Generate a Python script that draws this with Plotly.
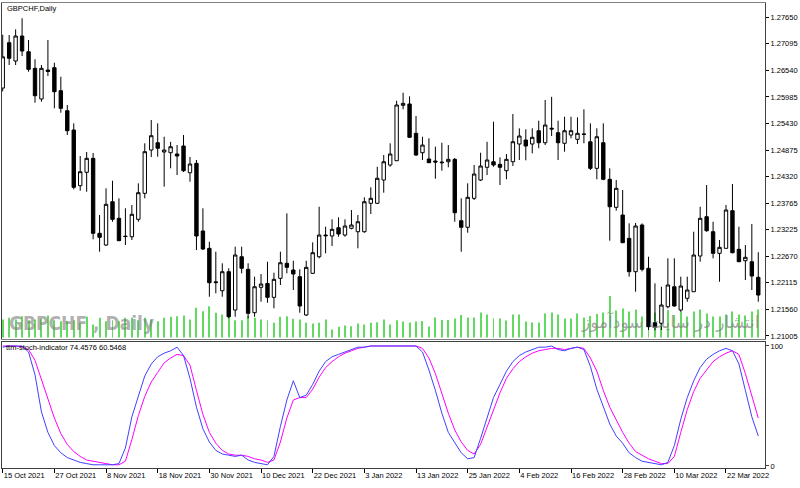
import plotly.graph_objects as go

# ---------------- data ----------------
open_ = [1.2617, 1.27115, 1.26733, 1.27254, 1.26927, 1.26581, 1.25942, 1.26546, 1.26594, 1.26115,
         1.25698, 1.25296, 1.24136, 1.24415, 1.24706, 1.23144, 1.2290, 1.23802, 1.23456, 1.23085,
         1.23073, 1.23435, 1.23977, 1.24879, 1.25031, 1.24838, 1.24823, 1.24796, 1.24963, 1.24406,
         1.24602, 1.23192, 1.22831, 1.22115, 1.21948, 1.22344, 1.21546, 1.22656, 1.22394, 1.2149,
         1.22019, 1.22098, 1.2181, 1.22206, 1.22519, 1.22379, 1.2224, 1.21442, 1.2231, 1.22656,
         1.23108, 1.23088, 1.2326, 1.23108, 1.23248, 1.23177, 1.23177, 1.23769, 1.23769, 1.24254,
         1.24567, 1.24656, 1.2581, 1.25838, 1.25227, 1.24823, 1.24692, 1.2465, 1.24629, 1.24635,
         1.24685, 1.23406, 1.23269, 1.23873, 1.24254, 1.24519, 1.24635, 1.24581, 1.24448, 1.24635,
         1.25004, 1.25088, 1.25004, 1.25281, 1.25031, 1.25333, 1.2524, 1.25019, 1.25192, 1.25102,
         1.25213, 1.2505, 1.24498, 1.25031, 1.24269, 1.23685, 1.23525, 1.23039, 1.22344, 1.23317,
         1.22415, 1.21281, 1.21269, 1.21615, 1.22031, 1.21546, 1.2179, 1.21927, 1.22671, 1.2349,
         1.23177, 1.22727, 1.22831, 1.23615, 1.2281, 1.22573, 1.22552, 1.22227]
high_ = [1.2728, 1.27275, 1.27394, 1.27623, 1.27171, 1.26769, 1.2665, 1.27171, 1.26698, 1.26406,
         1.25817, 1.25435, 1.24754, 1.24838, 1.24817, 1.23525, 1.24081, 1.2424, 1.23873, 1.23665,
         1.23733, 1.24185, 1.25019, 1.25504, 1.25435, 1.25156, 1.2505, 1.24983, 1.25192, 1.24733,
         1.24671, 1.23665, 1.22969, 1.22761, 1.22519, 1.22415, 1.22865, 1.22865, 1.22519, 1.2224,
         1.22296, 1.22552, 1.22323, 1.22761, 1.2356, 1.22573, 1.22394, 1.22573, 1.22956, 1.23698,
         1.23281, 1.23435, 1.23477, 1.23435, 1.23629, 1.23525, 1.23894, 1.24102, 1.24531, 1.24775,
         1.25019, 1.25906, 1.26073, 1.25998, 1.25588, 1.25156, 1.25123, 1.2495, 1.25031, 1.24983,
         1.24713, 1.23873, 1.24185, 1.24567, 1.24823, 1.2505, 1.25469, 1.24727, 1.24796, 1.25629,
         1.25331, 1.2531, 1.25331, 1.2549, 1.25921, 1.25988, 1.2549, 1.25573, 1.25573, 1.2556,
         1.25727, 1.25435, 1.25331, 1.25435, 1.24498, 1.24254, 1.24046, 1.23352, 1.2336, 1.2335,
         1.22656, 1.22102, 1.22031, 1.22623, 1.22623, 1.2224, 1.2224, 1.23177, 1.23698, 1.2415,
         1.23385, 1.23004, 1.23733, 1.24171, 1.23281, 1.229, 1.23338, 1.2275]
low_ = [1.2610, 1.2665, 1.2665, 1.26838, 1.2651, 1.25865, 1.25885, 1.26421, 1.25748, 1.25656,
        1.25192, 1.2406, 1.24031, 1.2401, 1.23019, 1.22761, 1.2288, 1.23385, 1.22983, 1.2290,
        1.23004, 1.23385, 1.23873, 1.24733, 1.2474, 1.24115, 1.24498, 1.24358, 1.24421, 1.24219,
        1.22796, 1.22796, 1.21823, 1.21894, 1.21823, 1.21373, 1.21406, 1.2231, 1.21373, 1.21406,
        1.21719, 1.21698, 1.21581, 1.22067, 1.2231, 1.21963, 1.2149, 1.21421, 1.22296, 1.22623,
        1.22727, 1.22879, 1.23073, 1.23073, 1.23227, 1.22831, 1.23156, 1.23546, 1.23754, 1.2399,
        1.24531, 1.2465, 1.25727, 1.2513, 1.24754, 1.24671, 1.24608, 1.24281, 1.24448, 1.24519,
        1.23385, 1.22761, 1.23156, 1.23838, 1.24233, 1.24358, 1.24531, 1.2415, 1.24269, 1.24546,
        1.24671, 1.24665, 1.2481, 1.24915, 1.24983, 1.25171, 1.24671, 1.24844, 1.25123, 1.25004,
        1.25019, 1.24463, 1.24269, 1.2425, 1.2299, 1.23615, 1.22948, 1.2224, 1.21927, 1.2235,
        1.21129, 1.2112, 1.21129, 1.21581, 1.21615, 1.2151, 1.21719, 1.21927, 1.22552, 1.23177,
        1.22623, 1.22135, 1.22831, 1.22727, 1.22552, 1.22171, 1.21963, 1.2172]
close_ = [1.2682, 1.2679, 1.27254, 1.26942, 1.2656, 1.2601, 1.26581, 1.26515, 1.26094, 1.25748,
          1.25281, 1.24102, 1.24427, 1.24706, 1.23144, 1.2306, 1.23748, 1.23435, 1.2299, 1.23077,
          1.2354, 1.2399, 1.24844, 1.25177, 1.24915, 1.24879, 1.24948, 1.24754, 1.24448, 1.24588,
          1.23088, 1.22817, 1.22115, 1.2213, 1.22344, 1.21406, 1.22692, 1.22415, 1.21477, 1.22031,
          1.22087, 1.2181, 1.22185, 1.22531, 1.22435, 1.22296, 1.2163, 1.22435, 1.2274, 1.23108,
          1.23094, 1.23227, 1.23129, 1.23296, 1.23317, 1.23385, 1.23802, 1.23873, 1.2429, 1.24635,
          1.24796, 1.25817, 1.2585, 1.25144, 1.24775, 1.24983, 1.24615, 1.24629, 1.24615, 1.24685,
          1.23573, 1.23269, 1.23894, 1.24379, 1.24546, 1.24671, 1.24567, 1.24519, 1.24685, 1.25052,
          1.25171, 1.24963, 1.25144, 1.25031, 1.254, 1.25317, 1.25031, 1.25281, 1.25281, 1.25227,
          1.25206, 1.24498, 1.25156, 1.24269, 1.23698, 1.24081, 1.22948, 1.22344, 1.23296, 1.22394,
          1.21198, 1.21185, 1.2165, 1.22067, 1.2163, 1.22046, 1.21963, 1.22692, 1.23456, 1.23198,
          1.22727, 1.22852, 1.23629, 1.2274, 1.22552, 1.22644, 1.22254, 1.21858]
volume = [18, 19.7, 18, 21.3, 17.3, 18, 18.7, 22, 17.3, 16.3,
          16.3, 17.3, 14.7, 20.7, 13, 19.7, 16.3, 17.3, 16.3, 19.7,
          19.7, 17.3, 19.7, 18, 16.3, 19.7, 20.7, 21.3, 22, 18,
          29.7, 26.3, 31.3, 24.7, 23, 26.3, 17.3, 17.3, 21.3, 19.7,
          18, 17.3, 14.7, 20.7, 21.3, 18.7, 18, 14.7, 14, 14.7,
          18, 8, 10.7, 12, 11.3, 14, 13, 14.7, 15.3, 18,
          13, 17.3, 16, 15, 16, 16.5, 11, 20, 17.5, 17.5,
          19, 22.5, 20, 20, 25, 23, 19, 19, 17, 23,
          23, 16, 15, 15, 24, 25, 23, 19, 19, 24,
          20, 21.5, 23.5, 25, 41.5, 27, 29, 26, 28, 21,
          27, 25, 24, 27.5, 22.5, 26, 21, 26, 28, 24,
          21, 21, 23, 26, 23, 22, 26, 28]
stoch_main = [99, 100, 100, 100, 95, 76, 45, 28, 17, 11, 7, 5, 3, 2, 1, 1, 1, 1, 2, 15,
              41, 59, 75, 85, 91, 94, 96, 99, 92, 73, 49, 31, 20, 13, 10, 9, 8, 9, 5, 3,
              2, 1, 8, 33, 55, 71, 57, 59, 68, 79, 87, 91, 93, 95, 97, 99, 99, 100, 100, 100,
              100, 100, 100, 100, 100, 95, 80, 63, 44, 28, 19, 11, 6, 7, 23, 40, 57, 68, 79, 87,
              92, 95, 97, 99, 99, 100, 97, 96, 98, 99, 97, 83, 64, 49, 35, 25, 19, 11, 7, 4,
              3, 2, 1, 3, 17, 39, 57, 71, 82, 89, 93, 96, 98, 96, 85, 63, 41, 25]
stoch_signal = [100, 100, 100, 99, 97, 88, 72, 55, 40, 27, 18, 12, 8, 5, 4, 3, 2, 1, 1, 4,
                22, 42, 58, 70, 78, 86, 90, 93, 92, 84, 63, 43, 28, 19, 13, 10, 9, 9, 8, 6,
                5, 3, 5, 20, 40, 55, 57, 57, 64, 74, 82, 87, 91, 94, 96, 98, 99, 100, 100, 100,
                100, 100, 100, 100, 100, 98, 90, 77, 60, 44, 30, 20, 13, 10, 18, 32, 47, 61, 73, 81,
                87, 91, 94, 96, 97, 98, 98, 97, 98, 99, 98, 90, 79, 63, 49, 38, 28, 19, 12, 9,
                6, 4, 2, 2, 8, 28, 47, 62, 73, 80, 87, 91, 94, 96, 93, 77, 58, 40]
tick_index = [0, 8, 16, 24, 32, 40, 48, 56, 64, 72, 80, 88, 96, 104, 112]
tick_labels = ["15 Oct 2021", "27 Oct 2021", "8 Nov 2021", "18 Nov 2021", "30 Nov 2021",
               "10 Dec 2021", "22 Dec 2021", "3 Jan 2022", "13 Jan 2022", "25 Jan 2022",
               "4 Feb 2022", "16 Feb 2022", "28 Feb 2022", "10 Mar 2022", "22 Mar 2022"]
price_ticks = ["1.21005", "1.21560", "1.22115", "1.22670", "1.23225", "1.23765", "1.24320",
               "1.24875", "1.25430", "1.25985", "1.26540", "1.27095", "1.27650"]

idx = list(range(len(open_)))
FONT = "Liberation Sans, Arial, sans-serif"

fig = go.Figure()
fig.add_trace(go.Bar(x=idx, y=volume, width=0.15, marker_color="#62DA62",
                     marker_line_width=0, xaxis="x", yaxis="y", hoverinfo="skip"))
fig.add_trace(go.Candlestick(x=idx, open=open_, high=high_, low=low_, close=close_,
                             xaxis="x", yaxis="y2", whiskerwidth=0,
                             increasing=dict(line=dict(color="#000000", width=1), fillcolor="#ffffff"),
                             decreasing=dict(line=dict(color="#000000", width=1), fillcolor="#000000")))
fig.add_trace(go.Scatter(x=idx, y=stoch_signal, mode="lines", line=dict(color="#ff00ff", width=1),
                         xaxis="x2", yaxis="y3"))
fig.add_trace(go.Scatter(x=idx, y=stoch_main, mode="lines", line=dict(color="#4040ff", width=1),
                         xaxis="x2", yaxis="y3"))

xr = [-0.11, 118.04]
fig.update_layout(
    width=800, height=488, margin=dict(l=2, r=35, t=3, b=20),
    paper_bgcolor="white", plot_bgcolor="white", showlegend=False,
    boxgap=0.25,
    font=dict(family=FONT, size=7.5, color="black"),
    xaxis=dict(domain=[0, 1], anchor="y", range=xr, showticklabels=False, ticks="",
               showgrid=False, zeroline=False, showline=True, mirror=True,
               linecolor="#808080", linewidth=1, rangeslider=dict(visible=False)),
    yaxis=dict(domain=[0.2774, 1], range=[-1.5, 334.5], visible=False, fixedrange=True),
    yaxis2=dict(overlaying="y", side="right", anchor="x", range=[1.20942, 1.27942],
                tickvals=[float(t) for t in price_ticks], ticktext=price_ticks,
                ticks="outside", ticklen=3, tickcolor="black", showgrid=False, zeroline=False,
                showline=True, mirror=True, linecolor="#404040", linewidth=1,
                tickfont=dict(family=FONT, size=7.5)),
    xaxis2=dict(domain=[0, 1], anchor="y3", range=xr, tickvals=tick_index, ticktext=tick_labels,
                ticklabelposition="outside right", ticks="outside", ticklen=4, tickcolor="black",
                showgrid=False, zeroline=False, showline=True, mirror=True,
                linecolor="#404040", linewidth=1, tickfont=dict(family=FONT, size=7.5)),
    yaxis3=dict(domain=[0, 0.271], anchor="x2", side="right", range=[-1.67, 103.33],
                tickvals=[0, 100], ticktext=["0", "100"], ticks="outside", ticklen=3,
                showgrid=False, zeroline=False, showline=True, mirror=True,
                linecolor="#404040", linewidth=1, tickfont=dict(family=FONT, size=7.5)),
)

fig.add_annotation(text="GBPCHF,Daily", xref="paper", yref="paper", x=0.004, y=0.988,
                   xanchor="left", yanchor="middle", showarrow=False,
                   font=dict(family=FONT, size=7.5, color="black"))
fig.add_annotation(text="ttm-stoch-indicator 74.4576 60.5468", xref="paper", yref="paper",
                   x=0.0026, y=0.259, xanchor="left", yanchor="middle", showarrow=False,
                   font=dict(family=FONT, size=7.5, color="black"))
fig.add_annotation(text="<b>GBPCHF , Daily</b>", xref="paper", yref="paper", x=0.0066, y=0.312,
                   xanchor="left", yanchor="middle", showarrow=False,
                   font=dict(family="Liberation Sans Narrow, DejaVu Sans Condensed, Liberation Sans",
                             size=19, color="rgba(125,125,125,0.6)"))
fig.add_annotation(text="انتشار در سایت سودآموز", xref="paper", yref="paper", x=0.875, y=0.316,
                   xanchor="center", yanchor="middle", showarrow=False,
                   font=dict(family="DejaVu Sans", size=17, color="rgba(130,130,130,0.7)"))

fig.write_html("out.html")
